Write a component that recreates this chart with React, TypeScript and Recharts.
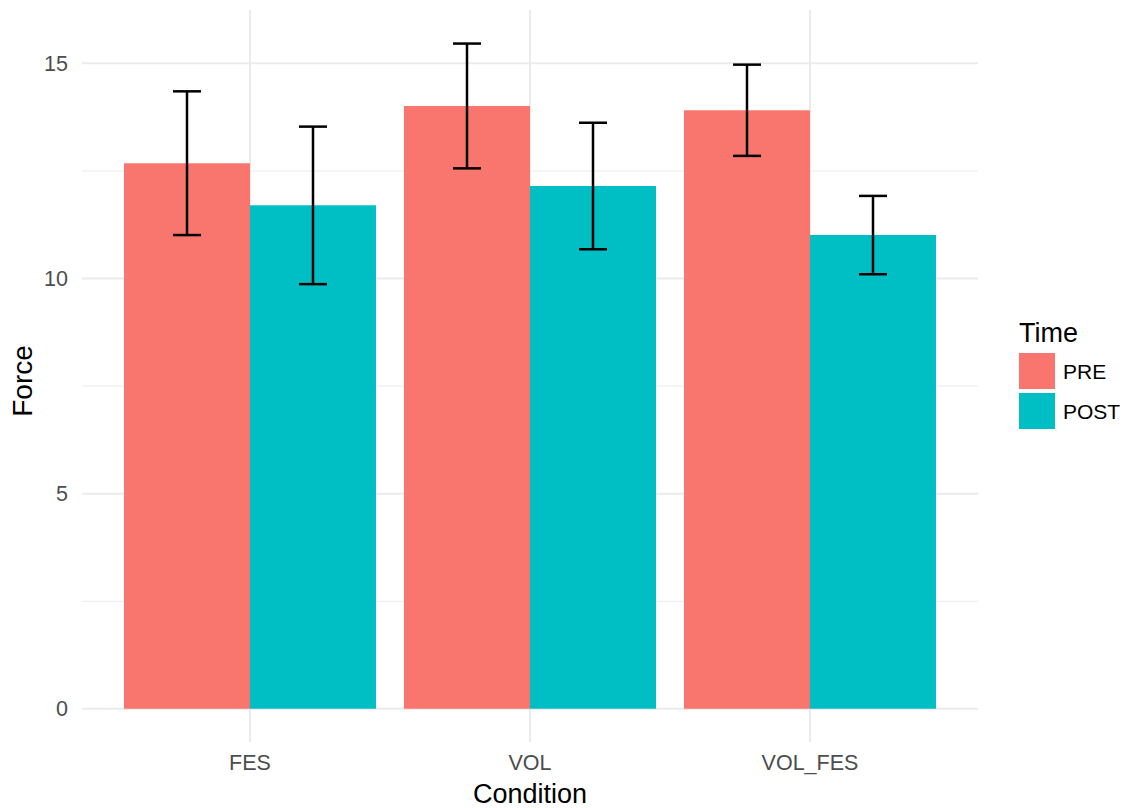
import React from "react";
import {
  BarChart,
  Bar,
  XAxis,
  YAxis,
  ErrorBar,
  CartesianGrid,
  Legend,
  Label,
} from "recharts";

const conditions = ["FES", "VOL", "VOL_FES"];
const timeLabels = ["PRE", "POST"];
const preForce = [12.68, 14.01, 13.91];
const postForce = [11.7, 12.15, 11.01];
const preSd = [1.67, 1.45, 1.06];
const postSd = [1.83, 1.47, 0.91];
const yTicks = [0, 5, 10, 15];
const minorTicks = [2.5, 7.5, 12.5];

const PRE_COLOR = "#F8766D";
const POST_COLOR = "#00BFC4";
const GRID = "#EBEBEB";
const FONT = '"Liberation Sans", Arial, Helvetica, sans-serif';

const data = conditions.map((condition, i) => ({
  condition,
  pre: preForce[i],
  post: postForce[i],
  preErr: preSd[i],
  postErr: postSd[i],
}));

// ggplot style legend: title, square keys, labels
const TimeLegend = (props: any) => {
  const payload = props.payload || [];
  const items = timeLabels
    .map((name) => payload.find((p: any) => p.value === name))
    .filter(Boolean);
  return (
    <svg width={118} height={130} style={{ fontFamily: FONT, display: "block" }}>
      <text x={9} y={32} fontSize={27} fill="#000">
        Time
      </text>
      {items.map((item: any, i: number) => (
        <g key={item.value}>
          <rect x={9} y={43 + i * 40} width={36} height={36} fill={item.color} />
          <text x={53} y={61 + i * 40} dy="0.36em" fontSize={21} fill="#000">
            {item.value}
          </text>
        </g>
      ))}
    </svg>
  );
};

export default function App() {
  return (
    <div style={{ position: "absolute", left: 0, top: 0, width: 1128, height: 808, background: "#fff" }}>
      <BarChart
        width={1128}
        height={808}
        data={data}
        margin={{ top: 10, right: 150, bottom: 4, left: 0 }}
        barCategoryGap={14}
        barGap={0}
        style={{ fontFamily: FONT }}
      >
        <CartesianGrid stroke={GRID} strokeWidth={1} vertical={false} horizontalValues={minorTicks} />
        <CartesianGrid stroke={GRID} strokeWidth={2} syncWithTicks />
        <XAxis
          dataKey="condition"
          height={62}
          padding={{ left: 28, right: 28 }}
          axisLine={false}
          tickLine={false}
          tickSize={0}
          tickMargin={13}
          tick={{ fill: "#4D4D4D", fontSize: 21.5 }}
        >
          <Label value="Condition" position="insideBottom" offset={1} fill="#000" fontSize={27} />
        </XAxis>
        <YAxis
          width={82}
          domain={[-0.77, 16.24]}
          ticks={yTicks}
          allowDataOverflow
          axisLine={false}
          tickLine={false}
          tickSize={0}
          tickMargin={14}
          tick={{ fill: "#4D4D4D", fontSize: 21.5 }}
        >
          <Label
            content={() => (
              <text
                x={22}
                y={381}
                transform="rotate(-90 22 381)"
                textAnchor="middle"
                dy="0.36em"
                fontSize={28}
                fill="#000"
              >
                Force
              </text>
            )}
          />
        </YAxis>
        <Legend
          layout="vertical"
          align="center"
          verticalAlign="middle"
          wrapperStyle={{ left: 1010, top: 310, width: 118, height: 130 }}
          content={TimeLegend}
        />
        <Bar dataKey="pre" name="PRE" fill={PRE_COLOR} isAnimationActive={false}>
          <ErrorBar dataKey="preErr" direction="y" width={14} stroke="#000" strokeWidth={2.5} />
        </Bar>
        <Bar dataKey="post" name="POST" fill={POST_COLOR} isAnimationActive={false}>
          <ErrorBar dataKey="postErr" direction="y" width={14} stroke="#000" strokeWidth={2.5} />
        </Bar>
      </BarChart>
    </div>
  );
}
